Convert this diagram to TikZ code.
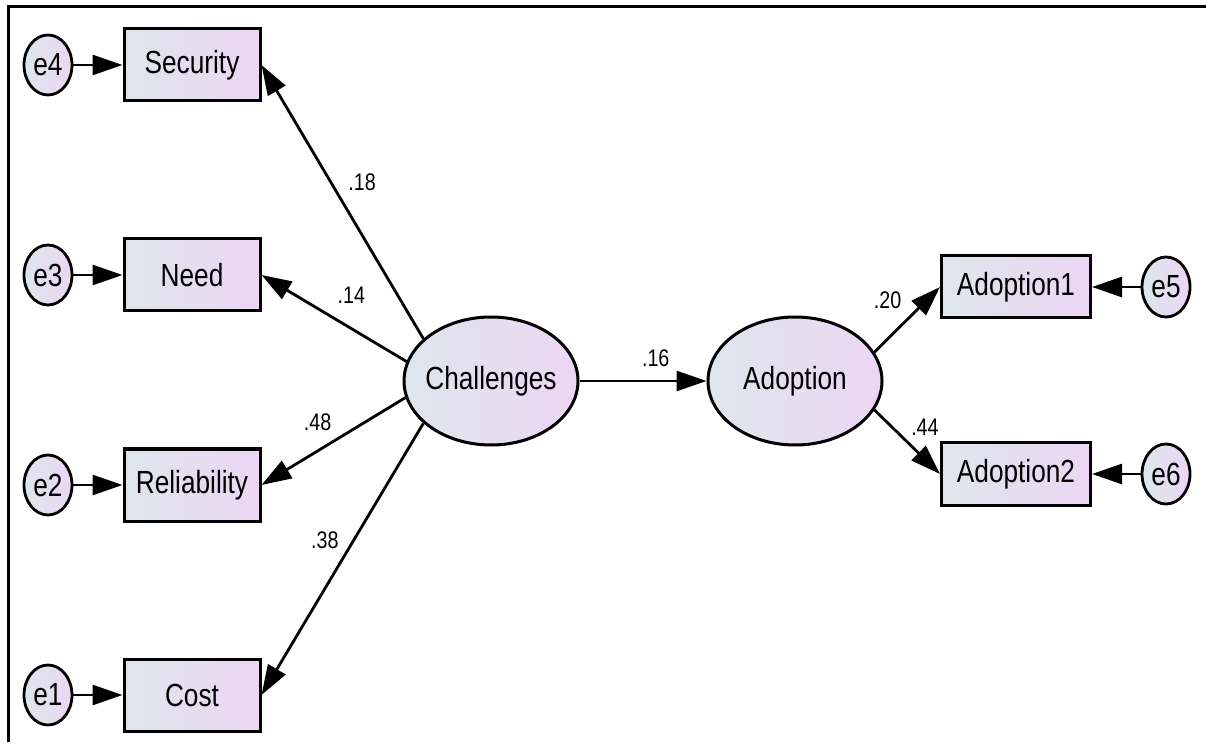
\documentclass[tikz,border=0pt]{standalone}
\usepackage{fontspec}
\setmainfont{Liberation Sans}
\newfontfamily\amosfont{Liberation Sans}[FakeStretch=0.82]
\usepackage{tikz}
\usetikzlibrary{shapes.geometric, arrows.meta}
\definecolor{fillL}{RGB}{222,230,236}
\definecolor{fillR}{RGB}{236,214,243}
\tikzstyle{observed} = [rectangle, minimum width=136pt, minimum height=72pt, text centered, draw=black, line width=3pt, left color=fillL, right color=fillR, font=\amosfont\fontsize{32}{36}\selectfont]
\tikzstyle{indicator} = [observed, minimum width=149pt, minimum height=62pt]
\tikzstyle{latent} = [ellipse, minimum width=174pt, minimum height=128pt, inner xsep=-10pt, text centered, draw=black, line width=3pt, left color=fillL, right color=fillR, font=\amosfont\fontsize{32}{36}\selectfont]
\tikzstyle{residual} = [ellipse, minimum width=48pt, minimum height=60pt, inner sep=0pt, text centered, draw=black, line width=2.8pt, left color=fillL, right color=fillR, font=\amosfont\fontsize{32}{36}\selectfont]
\tikzstyle{arrow} = [line width=2.8pt,->,>={Triangle[length=30pt,width=20pt]}]
\tikzstyle{coef} = [inner sep=0pt, font=\amosfont\fontsize{24}{28}\selectfont]

\begin{document}
\begin{tikzpicture}[node distance=210pt]
        \useasboundingbox (0pt,0pt) rectangle (1206pt,742pt);
        \draw [line width=3pt] (8pt,0pt) -- (8pt,735pt) -- (1206pt,735pt);

        \node (sec) [observed] at (192pt,677pt) {Security};
        \node (need) [observed, below of=sec] {Need};
        \node (rel) [observed, below of=need] {Reliability};
        \node (cost) [observed, below of=rel] {Cost};
        \node (e4) [residual, node distance=144pt, left of=sec] {e4};
        \node (e3) [residual, node distance=144pt, left of=need] {e3};
        \node (e2) [residual, node distance=144pt, left of=rel] {e2};
        \node (e1) [residual, node distance=144pt, left of=cost] {e1};

        \node (chal) [latent] at (491pt,361pt) {Challenges};
        \node (ado) [latent, node distance=304pt, right of=chal] {Adoption};
        \node (ado1) [indicator] at (1016pt,455pt) {Adoption1};
        \node (ado2) [indicator] at (1016pt,268pt) {Adoption2};
        \node (e5) [residual, node distance=150pt, right of=ado1] {e5};
        \node (e6) [residual, node distance=150pt, right of=ado2] {e6};

        % Error terms
        \draw [arrow] (e4) -- (sec);
        \draw [arrow] (e3) -- (need);
        \draw [arrow] (e2) -- (rel);
        \draw [arrow] (e1) -- (cost);
        \draw [arrow] (e5) -- (ado1);
        \draw [arrow] (e6) -- (ado2);

        % Loadings
        \draw [arrow] (chal.148) -- node[coef, pos=0.57, xshift=31pt] {.18} (sec.east);
        \draw [arrow] (chal.167) -- node[coef, pos=0.38, yshift=33pt] {.14} (need.east);
        \draw [arrow] (chal.191) -- node[coef, pos=0.61, yshift=29pt] {.48} (rel.east);
        \draw [arrow] (chal.212) -- node[coef, pos=0.43, xshift=-29pt] {.38} (cost.east);
        \draw [arrow] (ado.20.6) -- node[coef, pos=0.2, yshift=39pt] {.20} (ado1.west);
        \draw [arrow] (ado.-20.6) -- node[coef, pos=0.77, yshift=32pt] {.44} (ado2.west);

        % Structural path
        \draw [arrow] (chal.east) -- node[coef, pos=0.6, yshift=23pt] {.16} (ado.west);
    \end{tikzpicture}
\end{document}
